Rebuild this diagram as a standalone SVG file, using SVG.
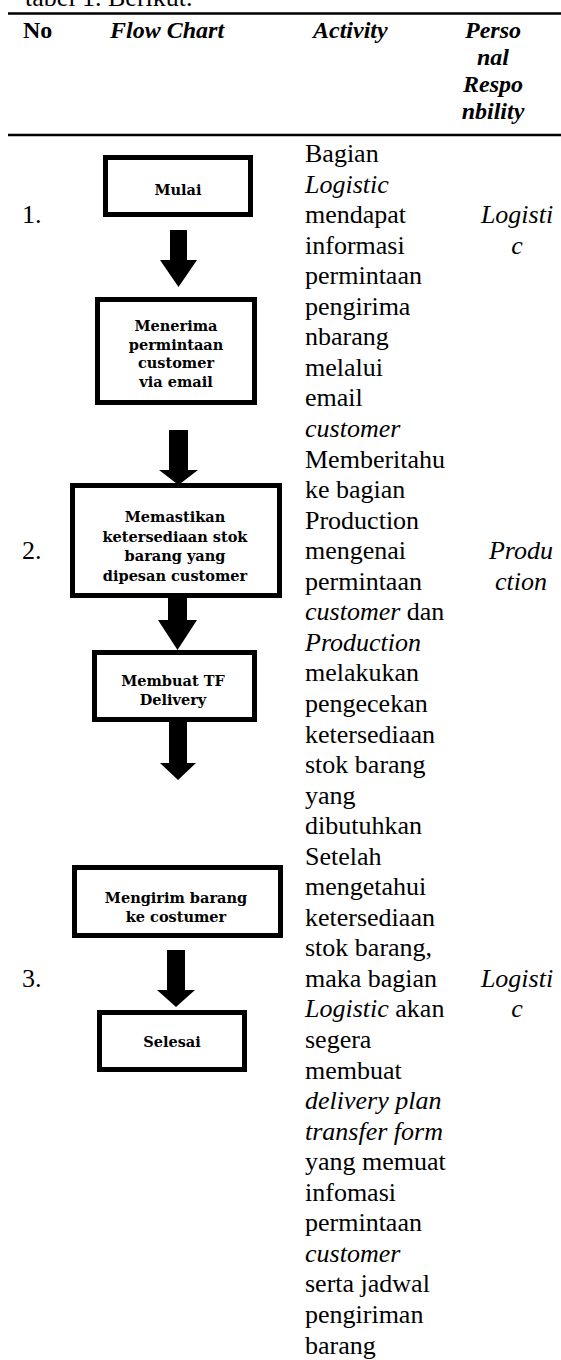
<svg xmlns="http://www.w3.org/2000/svg" width="561" height="1360" viewBox="0 0 561 1360">
<style>
.hd{font-family:"Liberation Serif","Times New Roman",serif;font-size:24px;font-weight:bold;fill:#000}
.it{font-style:italic}
.bd{font-family:"Liberation Serif","Times New Roman",serif;font-size:26px;fill:#000}
.box{fill:#fff;stroke:#000;stroke-width:5}
.bt{font-family:"DejaVu Serif",serif;font-size:14.5px;font-weight:bold;text-anchor:middle;fill:#000}
.rule{stroke:#000;stroke-width:2.5}
.arr{fill:#000}
</style>
<rect width="561" height="1360" fill="#fff"/>
<text class="bd" x="25" y="6" font-size="24">tabel 1. Berikut.</text>
<line class="rule" x1="8" y1="13.5" x2="561" y2="13.5"/>
<g id="header">
<text class="hd" x="23" y="38">No</text>
<text class="hd it" x="110" y="38">Flow Chart</text>
<text class="hd it" x="313" y="38">Activity</text>
<g text-anchor="middle">
<text class="hd it" x="493" y="38">Perso</text>
<text class="hd it" x="493" y="65">nal</text>
<text class="hd it" x="493" y="92">Respo</text>
<text class="hd it" x="493" y="119">nbility</text>
</g>
</g>
<line class="rule" x1="8" y1="135" x2="561" y2="135"/>
<g id="numbers">
<text class="bd" x="22" y="223.1">1.</text>
<text class="bd" x="22" y="559.2">2.</text>
<text class="bd" x="22" y="986.9">3.</text>
</g>
<g id="connectors">
<path class="arr" d="M170,230 H187 V260 H197 L178.5,287 L160,260 H170 Z"/>
<path class="arr" d="M169,430 H188 V470 H198 L178.5,485 L159,470 H169 Z"/>
<path class="arr" d="M168,598 H187 V620 H197 L177.5,650 L158,620 H168 Z"/>
<path class="arr" d="M169,722 H187 V763 H196 L178,780 L160,763 H169 Z"/>
<path class="arr" d="M167,950 H185 V990 H195 L176,1007 L157,990 H167 Z"/>
</g>
<g id="n1">
<rect class="box" x="105.5" y="157.5" width="145" height="57"/>
<text class="bt" x="178" y="195">Mulai</text>
</g>
<g id="n2">
<rect class="box" x="97.5" y="299.5" width="157" height="103"/>
<text class="bt" x="176" y="331">Menerima</text>
<text class="bt" x="176" y="349.5">permintaan</text>
<text class="bt" x="176" y="368">customer</text>
<text class="bt" x="176" y="386.5">via email</text>
</g>
<g id="n3">
<rect class="box" x="72.5" y="485.5" width="207" height="110"/>
<text class="bt" x="175" y="522">Memastikan</text>
<text class="bt" x="175" y="541.5">ketersediaan stok</text>
<text class="bt" x="175" y="561">barang yang</text>
<text class="bt" x="175" y="580.5">dipesan customer</text>
</g>
<g id="n4">
<rect class="box" x="94.5" y="652.5" width="160" height="67"/>
<text class="bt" x="173" y="685.5">Membuat TF</text>
<text class="bt" x="173" y="704.5">Delivery</text>
</g>
<g id="n5">
<rect class="box" x="74.5" y="867.5" width="206" height="68"/>
<text class="bt" x="176" y="903">Mengirim barang</text>
<text class="bt" x="176" y="922">ke costumer</text>
</g>
<g id="n6">
<rect class="box" x="99.5" y="1012.5" width="145" height="57"/>
<text class="bt" x="172" y="1047">Selesai</text>
</g>
<g id="activity">
<text class="bd" x="305" y="162">Bagian</text>
<text class="bd it" x="305" y="192.6">Logistic</text>
<text class="bd" x="305" y="223.1">mendapat</text>
<text class="bd" x="305" y="253.7">informasi</text>
<text class="bd" x="305" y="284.2">permintaan</text>
<text class="bd" x="305" y="314.8">pengirima</text>
<text class="bd" x="305" y="345.3">nbarang</text>
<text class="bd" x="305" y="375.9">melalui</text>
<text class="bd" x="305" y="406.4">email</text>
<text class="bd it" x="305" y="437">customer</text>
<text class="bd" x="305" y="467.5">Memberitahu</text>
<text class="bd" x="305" y="498.1">ke bagian</text>
<text class="bd" x="305" y="528.6">Production</text>
<text class="bd" x="305" y="559.2">mengenai</text>
<text class="bd" x="305" y="589.7">permintaan</text>
<text class="bd" x="305" y="620.3"><tspan font-style="italic">customer</tspan> dan</text>
<text class="bd it" x="305" y="650.8">Production</text>
<text class="bd" x="305" y="681.4">melakukan</text>
<text class="bd" x="305" y="711.9">pengecekan</text>
<text class="bd" x="305" y="742.5">ketersediaan</text>
<text class="bd" x="305" y="773">stok barang</text>
<text class="bd" x="305" y="803.6">yang</text>
<text class="bd" x="305" y="834.1">dibutuhkan</text>
<text class="bd" x="305" y="864.7">Setelah</text>
<text class="bd" x="305" y="895.2">mengetahui</text>
<text class="bd" x="305" y="925.8">ketersediaan</text>
<text class="bd" x="305" y="956.3">stok barang,</text>
<text class="bd" x="305" y="986.9">maka bagian</text>
<text class="bd" x="305" y="1017.4"><tspan font-style="italic">Logistic</tspan> akan</text>
<text class="bd" x="305" y="1048">segera</text>
<text class="bd" x="305" y="1078.5">membuat</text>
<text class="bd it" x="305" y="1109.1">delivery plan</text>
<text class="bd it" x="305" y="1139.6">transfer form</text>
<text class="bd" x="305" y="1170.2">yang memuat</text>
<text class="bd" x="305" y="1200.7">infomasi</text>
<text class="bd" x="305" y="1231.3">permintaan</text>
<text class="bd it" x="305" y="1261.8">customer</text>
<text class="bd" x="305" y="1292.4">serta jadwal</text>
<text class="bd" x="305" y="1322.9">pengiriman</text>
<text class="bd" x="305" y="1353.5">barang</text>
</g>
<g id="responsibility" text-anchor="middle">
<text class="bd it" x="517" y="223.1">Logisti</text>
<text class="bd it" x="517" y="253.7">c</text>
<text class="bd it" x="521" y="559.2">Produ</text>
<text class="bd it" x="521" y="589.7">ction</text>
<text class="bd it" x="517" y="986.9">Logisti</text>
<text class="bd it" x="517" y="1017.4">c</text>
</g>
</svg>
